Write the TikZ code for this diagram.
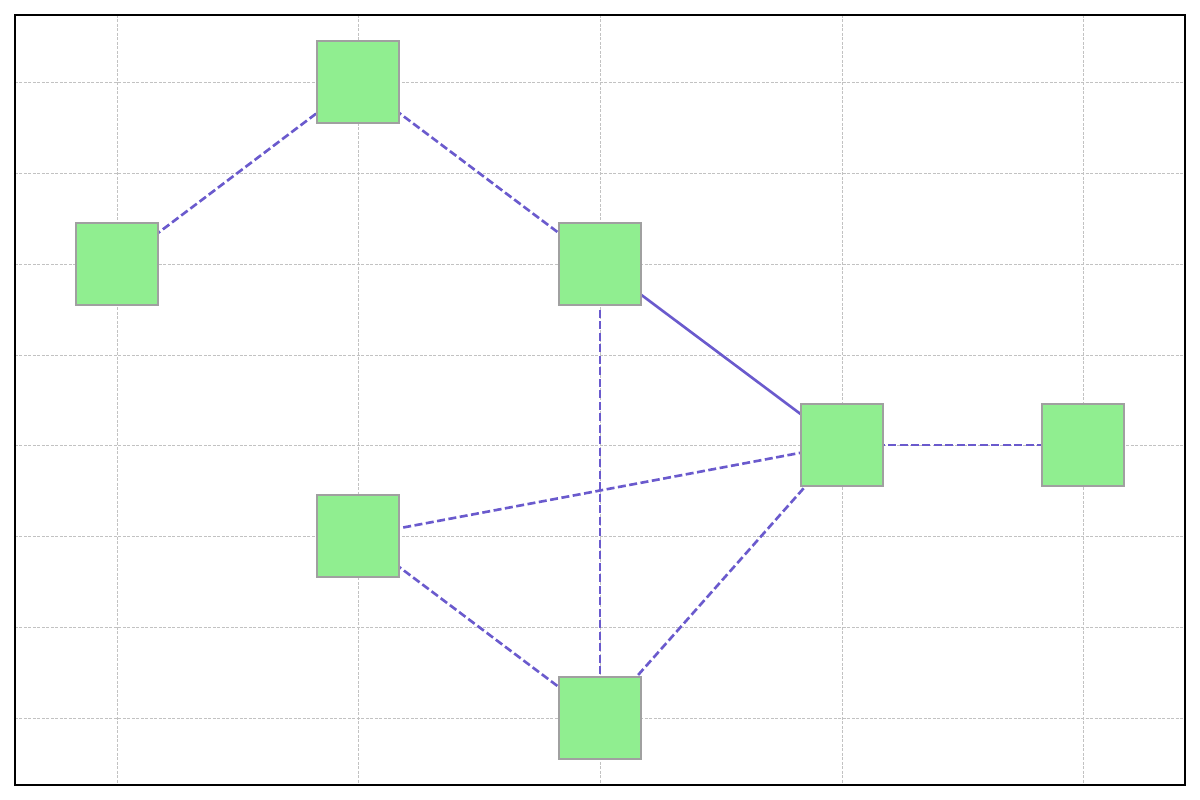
\documentclass[tikz,border=0pt]{standalone}
\usetikzlibrary{backgrounds}
\definecolor{edgec}{HTML}{6A5ACD}
\definecolor{nodec}{HTML}{90EE90}
\definecolor{nodeb}{HTML}{A0A0A0}
\definecolor{gridc}{HTML}{C2C2C2}
\tikzset{
  px/.style={x=0.02cm,y=-0.02cm},
  box/.style={rectangle,draw=nodeb,fill=nodec,line width=0.7pt,minimum width=1.64cm,minimum height=1.64cm,inner sep=0pt},
  dedge/.style={draw=edgec,line width=1.5pt,dash pattern=on 0.16cm off 0.07cm},
  sedge/.style={draw=edgec,line width=1.5pt},
  gridl/.style={draw=gridc,line width=0.4pt,dash pattern=on 0.06cm off 0.03cm}
}
\begin{document}
\begin{tikzpicture}[px]
\useasboundingbox (0,0) rectangle (1200,800);
\node[box] (a) at (117,264) {};
\node[box] (b) at (358,82) {};
\node[box] (c) at (600,264) {};
\node[box] (d) at (842,445) {};
\node[box] (e) at (1083,445) {};
\node[box] (f) at (358,536) {};
\node[box] (g) at (600,718) {};
\begin{scope}[on background layer]
\foreach \x in {117,358,600,842,1083} \draw[gridl] (\x,15) -- (\x,785);
\foreach \y in {82,173,264,355,445,536,627,718} \draw[gridl] (15,\y) -- (1185,\y);
\draw[dedge] (a.center) -- (b.center);
\draw[dedge] (b.center) -- (c.center);
\draw[sedge] (c.center) -- (d.center);
\draw[dedge] (c.center) -- (g.center);
\draw[dedge] (d.center) -- (e.center);
\draw[dedge] (f.center) -- (d.center);
\draw[dedge] (f.center) -- (g.center);
\draw[dedge] (g.center) -- (d.center);
\end{scope}
\draw[black,line width=0.8pt] (15,15) rectangle (1185,785);
\end{tikzpicture}
\end{document}
